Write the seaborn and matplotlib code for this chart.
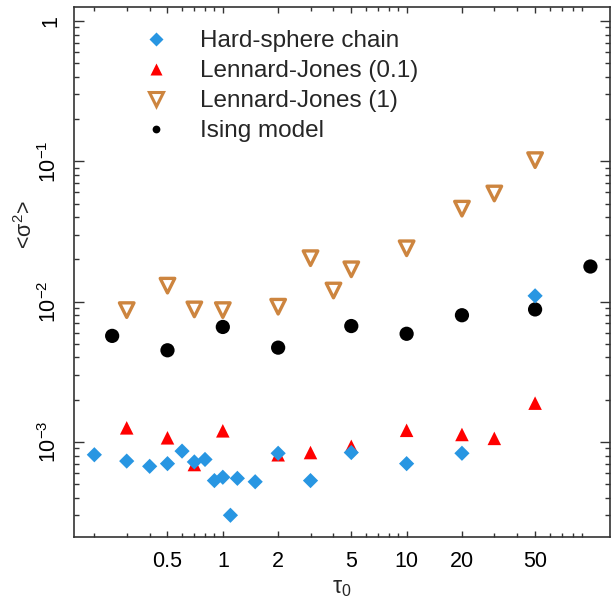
import numpy as np
import matplotlib
matplotlib.use("Agg")
import matplotlib.pyplot as plt
import seaborn as sns
from matplotlib.lines import Line2D
from matplotlib.ticker import FixedLocator, FixedFormatter, LogLocator, NullFormatter

# ---------------- data ----------------
hs_x = [0.2, 0.3, 0.4, 0.5, 0.6, 0.7, 0.8, 0.9, 1.0, 1.1, 1.2, 1.5, 2, 3, 5, 10, 20, 50]
hs_y = [8.1e-4, 7.3e-4, 6.7e-4, 7.0e-4, 8.6e-4, 7.2e-4, 7.5e-4, 5.3e-4, 5.6e-4, 3.0e-4,
        5.5e-4, 5.2e-4, 8.3e-4, 5.3e-4, 8.4e-4, 7.0e-4, 8.3e-4, 1.1e-2]

lj01_x = [0.3, 0.5, 0.7, 1, 2, 3, 5, 10, 20, 30, 50]
lj01_y = [1.26e-3, 1.07e-3, 6.9e-4, 1.2e-3, 8.1e-4, 8.4e-4, 9.3e-4, 1.21e-3, 1.13e-3, 1.06e-3, 1.89e-3]

lj1_x = [0.3, 0.5, 0.7, 1, 2, 3, 4, 5, 10, 20, 30, 50]
lj1_y = [8.7e-3, 1.3e-2, 8.8e-3, 8.7e-3, 9.2e-3, 2.04e-2, 1.2e-2, 1.7e-2, 2.4e-2, 4.6e-2, 5.9e-2, 1.02e-1]

ising_x = [0.25, 0.5, 1, 2, 5, 10, 20, 50, 100]
ising_y = [5.7e-3, 4.5e-3, 6.6e-3, 4.7e-3, 6.7e-3, 5.9e-3, 8.0e-3, 8.8e-3, 1.78e-2]

series_labels = ["Hard-sphere chain", "Lennard-Jones (0.1)", "Lennard-Jones (1)", "Ising model"]
x_ticks = [0.5, 1, 2, 5, 10, 20, 50]
x_ticklabels = ["0.5", "1", "2", "5", "10", "20", "50"]
y_ticks = [1e-3, 1e-2, 1e-1, 1]
y_ticklabels = [r"$\mathregular{10^{-3}}$", r"$\mathregular{10^{-2}}$", r"$\mathregular{10^{-1}}$", "1"]

# ---------------- style ----------------
sns.set_style("white")
plt.rcParams["font.family"] = ["Liberation Sans", "DejaVu Sans"]
plt.rcParams["mathtext.fontset"] = "custom"
plt.rcParams["mathtext.rm"] = "Liberation Sans"
plt.rcParams["mathtext.it"] = "Liberation Sans:italic"

BLUE = "#2896e2"
RED = "#ff0000"
ORANGE = "#cd853f"
BLACK = "#000000"

W, H = 611, 601
fig = plt.figure(figsize=(W / 100, H / 100), dpi=100)
L, R, T, B = 74, 609.5, 7, 537
ax = fig.add_axes([L / W, 1 - B / H, (R - L) / W, (B - T) / H])

sns.scatterplot(x=lj1_x, y=lj1_y, ax=ax, marker="v", s=110, color=ORANGE,
                facecolors="none", edgecolor=ORANGE, linewidth=2.4, legend=False, zorder=3)
sns.scatterplot(x=ising_x, y=ising_y, ax=ax, marker="o", s=105, color=BLACK,
                edgecolor="none", legend=False, zorder=3)
sns.scatterplot(x=lj01_x, y=lj01_y, ax=ax, marker="^", s=95, color=RED,
                edgecolor="none", legend=False, zorder=3)
sns.scatterplot(x=hs_x, y=hs_y, ax=ax, marker="D", s=60, color=BLUE,
                edgecolor="none", legend=False, zorder=4)

ax.set_xscale("log")
ax.set_yscale("log")
ax.set_xlim(0.155, 127)
ax.set_ylim(2.1e-4, 1.26)

ax.xaxis.set_major_locator(FixedLocator(x_ticks))
ax.xaxis.set_major_formatter(FixedFormatter(x_ticklabels))
ax.xaxis.set_minor_locator(LogLocator(base=10, subs=np.arange(2, 10), numticks=20))
ax.xaxis.set_minor_formatter(NullFormatter())
ax.yaxis.set_major_locator(FixedLocator(y_ticks))
ax.yaxis.set_major_formatter(FixedFormatter(y_ticklabels))
ax.yaxis.set_minor_locator(LogLocator(base=10, subs=np.arange(2, 10), numticks=20))
ax.yaxis.set_minor_formatter(NullFormatter())

ax.tick_params(axis="both", which="both", direction="in", top=True, right=True,
               bottom=True, left=True,
               color="#333333", width=1.0, labelsize=15.5, labelcolor="black")
ax.tick_params(axis="x", which="major", length=4, pad=10)
ax.tick_params(axis="x", which="minor", length=3.2)
ax.tick_params(axis="y", which="major", length=7.5, pad=9)
ax.tick_params(axis="y", which="minor", length=3.5)
for lab in ax.get_yticklabels():
    lab.set_rotation(90)
    lab.set_va("center")

for sp in ax.spines.values():
    sp.set_color("#333333")
    sp.set_linewidth(1.2)

ax.set_xlabel(r"$\mathregular{\tau_0}$", fontsize=16.5, labelpad=3)
ax.set_ylabel(r"<$\mathregular{\sigma^2}$>", fontsize=15.5)
ax.yaxis.set_label_coords((37 - L) / (R - L), (B - 225) / (B - T))

handles = [
    Line2D([], [], linestyle="none", marker="D", markersize=7.6, color=BLUE, markeredgecolor="none"),
    Line2D([], [], linestyle="none", marker="^", markersize=8.8, color=RED, markeredgecolor="none"),
    Line2D([], [], linestyle="none", marker="v", markersize=9.5, markerfacecolor="none",
           markeredgecolor=ORANGE, markeredgewidth=2.2),
    Line2D([], [], linestyle="none", marker="o", markersize=5.6, color=BLACK, markeredgecolor="none"),
]
fs = 17.5
fspx = fs * 100 / 72
hl, hp = 1.6, 1.0
left_px = 156 - hl * fspx / 2
ax.legend(handles, series_labels, loc="upper left", frameon=False, fontsize=fs,
          handlelength=hl, handletextpad=hp, labelspacing=0.33, borderpad=0, borderaxespad=0,
          bbox_to_anchor=(left_px / W, 1 - 30 / H), bbox_transform=fig.transFigure)

fig.savefig("out.png", dpi=100)
